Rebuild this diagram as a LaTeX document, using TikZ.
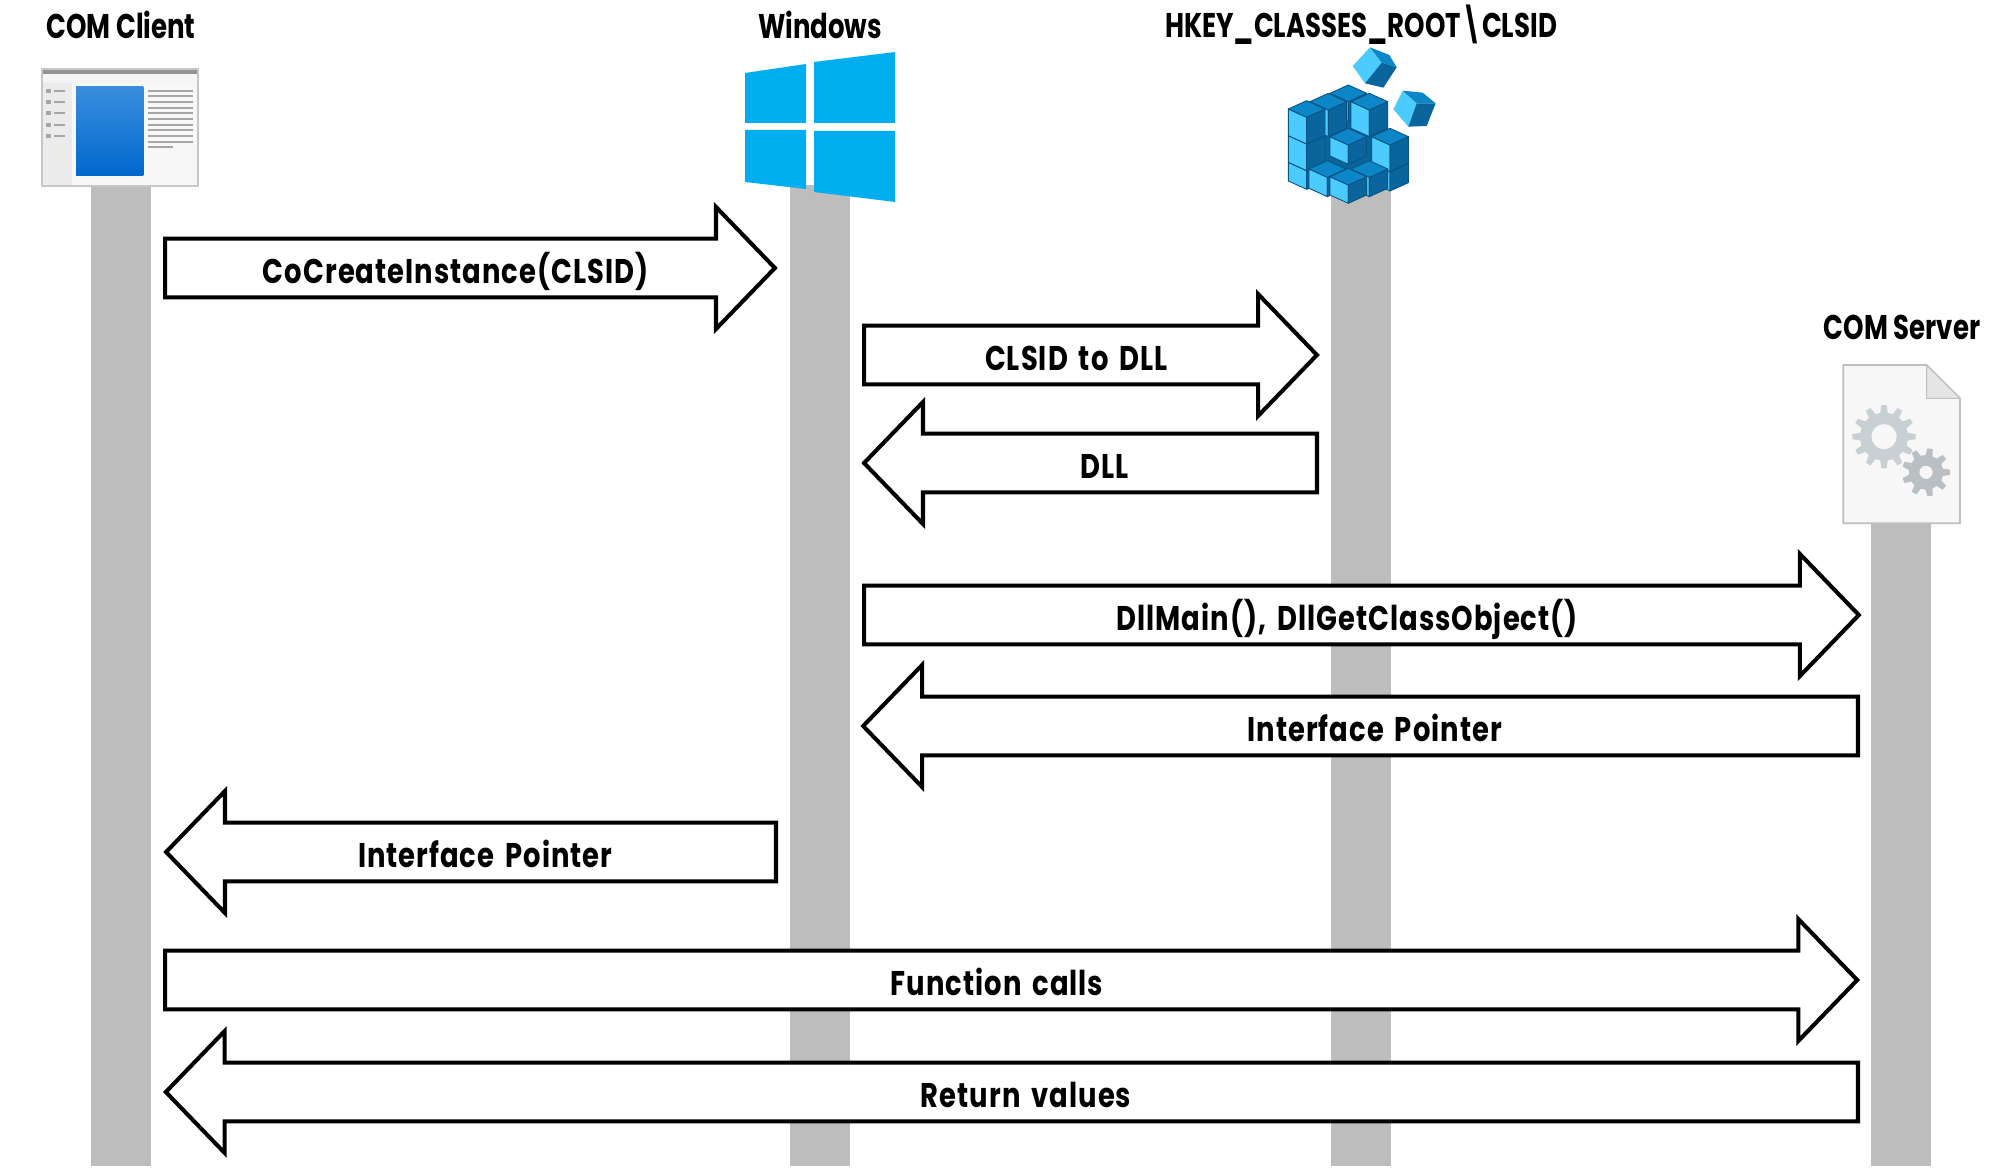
\documentclass[tikz,border=0pt]{standalone}
\usepackage{fontspec}
\usetikzlibrary{shapes.arrows}
\newfontfamily\headfont[FakeStretch=0.76]{Poppins Bold}
\newfontfamily\msgfont[FakeStretch=0.80,LetterSpace=3,WordSpace=1.6]{Poppins Bold}
\definecolor{life_grey}{RGB}{189, 189, 189}
\definecolor{win_blue}{RGB}{0, 173, 239}
\definecolor{reg_top}{RGB}{13, 134, 200}
\definecolor{reg_light}{RGB}{76, 203, 255}
\definecolor{reg_dark}{RGB}{10, 101, 156}
\definecolor{reg_edge}{RGB}{8, 84, 130}
\definecolor{gear_big}{RGB}{200, 208, 212}
\definecolor{gear_small}{RGB}{184, 192, 196}
\definecolor{pane_a}{RGB}{58, 142, 222}
\definecolor{pane_b}{RGB}{0, 104, 204}
\tikzstyle{lifeline}=[draw=life_grey,line width=1.2cm]
\tikzstyle{head}=[inner sep=0pt,font=\headfont\fontsize{19.5}{22}\selectfont,text height=13.6pt,text depth=0pt]
\tikzstyle{msg}=[single arrow,draw=black,fill=white,line width=2.3pt,
  single arrow head extend=0.46cm,single arrow head indent=0cm,single arrow tip angle=92,
  minimum width=2.44cm,inner sep=2pt,anchor=tail,
  font=\msgfont\fontsize{19.5}{22}\selectfont,text height=18pt,text depth=0pt]
\tikzstyle{msgl}=[msg,shape border rotate=180]
\tikzstyle{face}=[draw=reg_edge,line width=0.5pt,line join=round]
% one cube of the registry icon: x, y, height of its sides
\newcommand{\regcube}[3]{
  \filldraw[face,fill=reg_light] (#1,#2) -- (#1-55,#2-25) -- (#1-55,#2-25+#3) -- (#1,#2+#3) -- cycle;
  \filldraw[face,fill=reg_dark] (#1,#2) -- (#1+55,#2-25) -- (#1+55,#2-25+#3) -- (#1,#2+#3) -- cycle;
  \filldraw[face,fill=reg_top] (#1,#2) -- (#1-55,#2-25) -- (#1,#2-50) -- (#1+55,#2-25) -- cycle;
}
% gear: centre, outer radius, root radius, hole, teeth, colour
\newcommand{\gearicon}[6]{
  \fill[#6,even odd rule,shift={(#1)}] (0:#2)
    \foreach \t in {1,...,#5} {
      -- ({(\t-1)*360/#5+0.16*360/#5}:#2) -- ({(\t-1)*360/#5+0.30*360/#5}:#3)
      -- ({(\t-1)*360/#5+0.70*360/#5}:#3) -- ({(\t-1)*360/#5+0.84*360/#5}:#2)
      -- ({\t*360/#5}:#2)
    } -- cycle (0,0) circle (#4);
}
\begin{document}
\begin{tikzpicture}[x=0.02cm,y=-0.02cm]
  \useasboundingbox (0,0) rectangle (2000,1168);
  \fill[white] (0,0) rectangle (2000,1168);

  \coordinate (clientTop) at (121,180);
  \coordinate (clientEnd) at (121,1166);
  \coordinate (winTop) at (820,185);
  \coordinate (winEnd) at (820,1166);
  \coordinate (regTop) at (1361,190);
  \coordinate (regEnd) at (1361,1166);
  \coordinate (serverTop) at (1901,520);
  \coordinate (serverEnd) at (1901,1166);
  \draw[lifeline] (clientTop) to (clientEnd);
  \draw[lifeline] (winTop) to (winEnd);
  \draw[lifeline] (regTop) to (regEnd);
  \draw[lifeline] (serverTop) to (serverEnd);

  \node [style=head] (clientName) at (121,27) {COM Client};
  \node [style=head] (winName) at (820,27) {Windows};
  \node [style=head] (regName) at (1361,26) {HKEY\_CLASSES\_ROOT\textbackslash CLSID};
  \node [style=head] (serverName) at (1902,328) {COM Server};

  % client window
  \begin{scope}[shift={(30,60)},scale=1/3]
    \fill[black!3] (37,28) rectangle (505,378);
    \fill[black!8] (37,68) rectangle (125,378);
    \fill[black!4] (37,42) rectangle (505,68);
    \fill[black!42] (37,28) rectangle (505,42);
    \draw[black!22,line width=1pt] (37,28) rectangle (505,378);
    \shade[left color=pane_a,right color=pane_b,shading angle=0] (138,80) rectangle (340,347);
    \foreach \y in {92,108,125,143,160,176,195,211,227,245}
      \draw[black!35,line width=1pt] (355,\y) -- (490,\y);
    \draw[black!35,line width=1pt] (355,262) -- (430,262);
    \foreach \y in {92,126,160,194,228} {
      \fill[black!35] (48,\y-6) rectangle (62,\y+6);
      \draw[black!35,line width=1pt] (72,\y) -- (105,\y);
    }
  \end{scope}

  % windows logo
  \fill[win_blue] (745,73) -- (806,64) -- (806,123) -- (745,123) -- cycle;
  \fill[win_blue] (814,62) -- (895,52) -- (895,123) -- (814,123) -- cycle;
  \fill[win_blue] (745,130) -- (806,130) -- (806,189) -- (745,182) -- cycle;
  \fill[win_blue] (814,131) -- (895,131) -- (895,202) -- (814,192) -- cycle;

  % registry cubes
  \begin{scope}[shift={(1270,40)},scale=1/3]
    \fill[reg_dark] (120,230) rectangle (350,440);
    \regcube{235}{185}{60}
    \regcube{175}{210}{80}
    \regcube{298}{210}{80}
    \regcube{360}{395}{58}
    \regcube{360}{315}{80}
    \regcube{110}{392}{56}
    \regcube{110}{312}{80}
    \regcube{110}{232}{80}
    \regcube{235}{315}{58}
    \regcube{172}{412}{58}
    \regcube{298}{412}{58}
    \regcube{235}{435}{55}
    \fill[reg_light] (300,22) -- (248,78) -- (285,130) -- (335,68) -- cycle;
    \fill[reg_top] (300,22) -- (358,45) -- (380,82) -- (335,68) -- cycle;
    \fill[reg_dark] (335,68) -- (380,82) -- (340,143) -- (285,130) -- cycle;
    \fill[reg_light] (398,152) -- (370,208) -- (415,260) -- (440,190) -- cycle;
    \fill[reg_top] (398,152) -- (458,158) -- (497,190) -- (440,190) -- cycle;
    \fill[reg_dark] (440,190) -- (497,190) -- (470,258) -- (415,260) -- cycle;
  \end{scope}

  % server file
  \begin{scope}[shift={(1830,355)},scale=1/3]
    \draw[black!25,fill=black!3,line width=1pt] (40,30) -- (290,30) -- (390,130) -- (390,505) -- (40,505) -- cycle;
    \draw[black!25,fill=black!10,line width=0.6pt] (290,30) -- (390,130) -- (290,130) -- cycle;
    \gearicon{162,245}{95}{72}{38}{12}{gear_big}
    \gearicon{288,352}{72}{52}{20}{9}{gear_small}
  \end{scope}

  \node [style=msg,minimum height=12.2cm] (cocreate) at (163,268) {CoCreateInstance(CLSID)};
  \node [style=msg,minimum height=9.06cm] (clsidDll) at (862,355) {CLSID to DLL};
  \node [style=msgl,minimum height=9.06cm] (dllBack) at (1319,463) {DLL};
  \node [style=msg,minimum height=19.9cm] (dllMain) at (862,615) {DllMain(), DllGetClassObject()};
  \node [style=msgl,minimum height=19.9cm] (ifaceServer) at (1860,726) {Interface Pointer};
  \node [style=msgl,minimum height=12.2cm] (ifaceClient) at (778,852) {Interface Pointer};
  \node [style=msg,minimum height=33.85cm] (funcCalls) at (163,980) {Function calls};
  \node [style=msgl,minimum height=33.85cm] (retValues) at (1860,1092) {Return values};
\end{tikzpicture}
\end{document}
